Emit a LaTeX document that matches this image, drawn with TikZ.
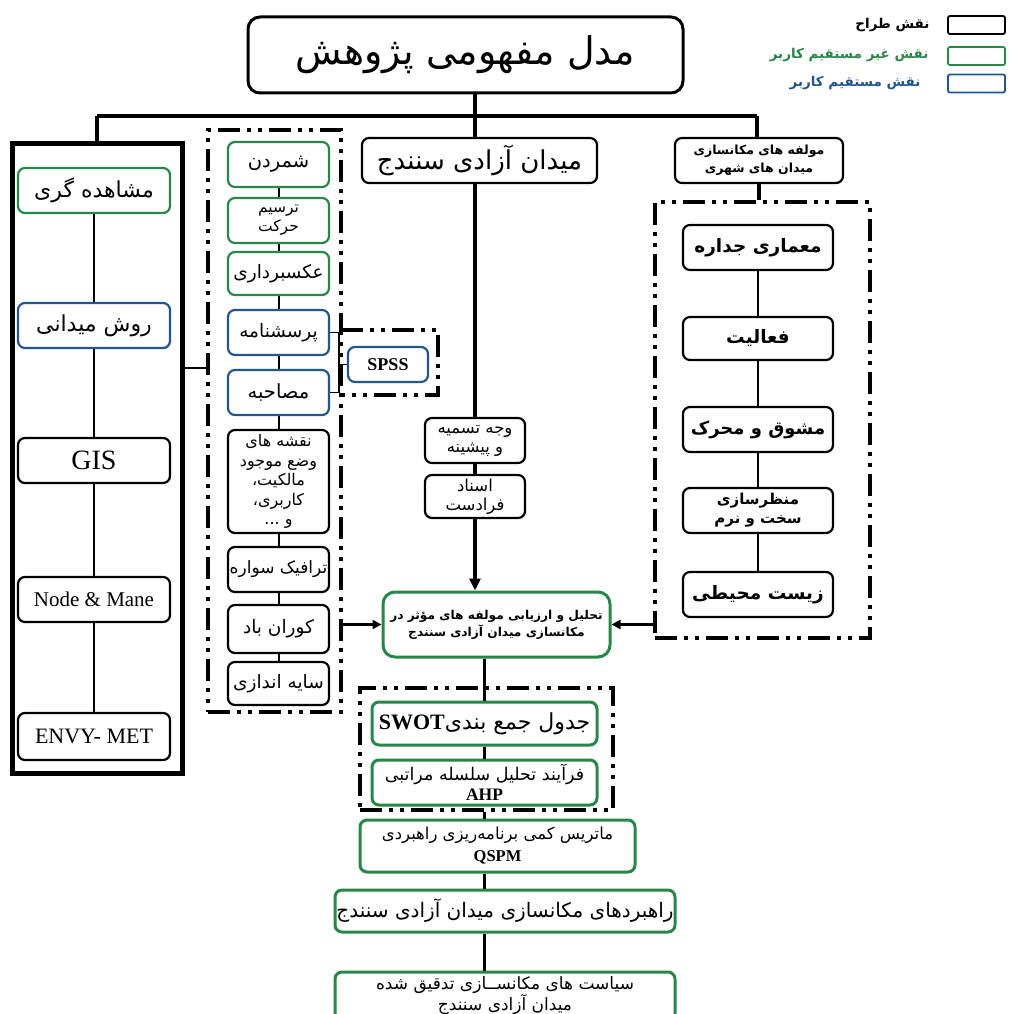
\documentclass[tikz,border=0pt]{standalone}
\usepackage{fontspec}
\setmainfont{Liberation Serif}
\newfontfamily\arabicfont[Script=Arabic]{DejaVu Sans}
\newfontfamily\latinfont{Liberation Serif}
\TeXXeTstate=1
\newcommand{\FA}[1]{{\arabicfont\beginR #1\endR}}
\newcommand{\LT}[1]{{\latinfont\bfseries #1}}
\newcommand{\fs}[2]{\fontsize{#1}{#2}\selectfont}
\usetikzlibrary{arrows.meta}
\definecolor{grn}{RGB}{38,135,70}
\definecolor{blu}{RGB}{35,85,140}
\begin{document}
\begin{tikzpicture}[x=1pt,y=-1pt,
  box/.style={draw, rounded corners=7pt, line width=2.2pt, align=center, inner sep=1pt, fill=white, font=\arabicfont\fs{18.5}{21}},
  bbox/.style={box, draw=black},
  gbox/.style={box, draw=grn},
  ubox/.style={box, draw=blu},
  wh/.style 2 args={minimum width=#1, minimum height=#2},
  dashframe/.style={line width=4pt, dash pattern=on 22pt off 7pt on 4pt off 7pt on 4pt off 7pt},
  conn/.style={line width=3.5pt},
  thinline/.style={line width=1.5pt},
  arr/.style={line width=2.5pt, -{Triangle[length=9pt,width=9pt]}},
  lgbox/.style={draw, line width=1.8pt, rounded corners=2pt, wh={57}{18}},
  lgtext/.style={anchor=east, font=\arabicfont\bfseries\fs{13.5}{15}},
]
\useasboundingbox (0,0) rectangle (1009,1014);
\fill[white] (0,0) rectangle (1009,1014);

% frames
\node[draw, line width=5pt, wh={170}{630}] (lframe) at (97,458) {};
\node[draw, dashframe, wh={133}{582}] (mframe) at (274.5,421) {};
\node[draw, dashframe, wh={215}{436}] (rframe) at (762.5,420) {};
\node[draw, dashframe, wh={253}{122}] (cframe) at (486.5,749) {};
\coordinate (s1) at (341,330);
\coordinate (s2) at (438,330);
\coordinate (s3) at (438,395);
\coordinate (s4) at (341,395);
\draw[dashframe] (s1) -- (s2) -- (s3) -- (s4);

% title and legend
\node[bbox, wh={435}{76}, line width=3pt, rounded corners=12pt, font=\arabicfont\fs{38}{42}] (title) at (465.5,55) {\FA{مدل مفهومی پژوهش}};
\node[lgbox, draw=black] (lg1) at (976.5,25) {};
\node[lgbox, draw=grn] (lg2) at (976.5,56) {};
\node[lgbox, draw=blu] (lg3) at (976.5,83.5) {};
\node[lgtext] (lt1) at (933,25) {\FA{نقش طراح}};
\node[lgtext, text=grn] (lt2) at (932,55) {\FA{نقش غیر مستقیم کاربر}};
\node[lgtext, text=blu] (lt3) at (924,83) {\FA{نقش مستقیم کاربر}};

% left column
\node[gbox, wh={152}{45}, font=\arabicfont\fs{22}{24}] (obs) at (94,190.5) {\FA{مشاهده گری}};
\node[ubox, wh={152}{45}, font=\arabicfont\fs{22}{24}] (fld) at (94,325.5) {\FA{روش میدانی}};
\node[bbox, wh={152}{45}, font=\latinfont\fs{28}{30}] (gis) at (94,460.5) {GIS};
\node[bbox, wh={152}{45}, font=\latinfont\fs{21}{24}] (nm) at (94,599.5) {Node \& Mane};
\node[bbox, wh={152}{47}, font=\latinfont\fs{22}{24}] (envy) at (94,736.5) {ENVY- MET};

% middle-left column
\node[gbox, wh={101}{45}, font=\arabicfont\fs{19.5}{21}] (c1) at (278.5,164.5) {\FA{شمردن}};
\node[gbox, wh={101}{45}, font=\arabicfont\fs{15.5}{19}] (c2) at (278.5,220.5) {\FA{ترسیم}\\\FA{حرکت}};
\node[gbox, wh={101}{43}] (c3) at (278.5,273.5) {\FA{عکسبرداری}};
\node[ubox, wh={101}{45}] (c4) at (278.5,332.5) {\FA{پرسشنامه}};
\node[ubox, wh={101}{45}, font=\arabicfont\fs{19.5}{21}] (c5) at (278.5,392.5) {\FA{مصاحبه}};
\node[bbox, wh={101}{103}, font=\arabicfont\fs{16}{19.5}] (c6) at (278.5,481.5) {\FA{نقشه های}\\\FA{وضع موجود}\\\FA{مالکیت،}\\\FA{کاربری،}\\\FA{و ...}};
\node[bbox, wh={101}{45}, font=\arabicfont\fs{17}{20}] (c7) at (278.5,569.5) {\FA{ترافیک سواره}};
\node[bbox, wh={101}{48}] (c8) at (278.5,629) {\FA{کوران باد}};
\node[bbox, wh={101}{43}] (c9) at (278.5,683.5) {\FA{سایه اندازی}};
\node[ubox, wh={80}{35}, font=\latinfont\bfseries\fs{18}{20}] (spss) at (388,364.5) {SPSS};

% center column
\node[bbox, wh={235}{45}, font=\arabicfont\fs{26}{28}] (sq) at (479.5,160.5) {\FA{میدان آزادی سنندج}};
\node[bbox, wh={100}{45}, font=\arabicfont\fs{16.5}{19}] (vj) at (475,440.5) {\FA{وجه تسمیه}\\\FA{و پیشینه}};
\node[bbox, wh={100}{43}, font=\arabicfont\fs{16.5}{19}] (as) at (475,496.5) {\FA{اسناد}\\\FA{فرادست}};
\node[gbox, wh={227}{65}, line width=3pt, rounded corners=12pt, font=\arabicfont\bfseries\fs{12.2}{17}] (th) at (496.5,624.5) {\FA{تحلیل و ارزیابی مولفه های مؤثر در}\\\FA{مکانسازی میدان آزادی سنندج}};
\node[gbox, wh={225}{43}, line width=3pt, font=\arabicfont\fs{22}{24}] (sw) at (484.5,723.5) {\FA{جدول جمع بندی\beginL\LT{SWOT}\endL}};
\node[gbox, wh={225}{45}, line width=3pt, font=\arabicfont\fs{17.5}{20}] (ahp) at (484.5,782.5) {\FA{فرآیند تحلیل سلسله مراتبی}\\\LT{AHP}};
\node[gbox, wh={275}{52}, line width=3pt, font=\arabicfont\fs{16.5}{22}] (qs) at (497.5,846) {\FA{ماتریس کمی برنامه‌ریزی راهبردی}\\\LT{QSPM}};
\node[gbox, wh={340}{42}, line width=3pt, font=\arabicfont\fs{20}{22}] (rb) at (505,911) {\FA{راهبردهای مکانسازی میدان آزادی سنندج}};
\node[gbox, wh={340}{48}, line width=3pt, font=\arabicfont\fs{17}{21}] (sy) at (505,996) {\FA{سیاست های مکانســازی تدقیق شده}\\\FA{میدان آزادی سنندج}};

% right column
\node[bbox, wh={168}{45}, font=\arabicfont\bfseries\fs{12.5}{18}] (mc) at (759,160.5) {\FA{مولفه های مکانسازی}\\\FA{میدان های شهری}};
\node[bbox, wh={150}{45}, font=\arabicfont\bfseries\fs{18.5}{21}] (r1) at (758,247.5) {\FA{معماری جداره}};
\node[bbox, wh={150}{43}, font=\arabicfont\bfseries\fs{18.5}{21}] (r2) at (758,338.5) {\FA{فعالیت}};
\node[bbox, wh={150}{45}, font=\arabicfont\bfseries\fs{18}{21}] (r3) at (758,429.5) {\FA{مشوق و محرک}};
\node[bbox, wh={150}{45}, font=\arabicfont\bfseries\fs{15}{19}] (r4) at (758,510.5) {\FA{منظرسازی}\\\FA{سخت و نرم}};
\node[bbox, wh={150}{45}, font=\arabicfont\bfseries\fs{18.5}{21}] (r5) at (758,594.5) {\FA{زیست محیطی}};

% connectors
\coordinate (bL) at (97,116);
\coordinate (bR) at (757,116);
\coordinate (bM) at (475,116);
\draw[conn] (bL) -- (bR);
\draw[conn] (bL) -- (bL |- lframe.north);
\draw[conn] (bM |- title.south) -- (bM |- sq.north);
\draw[conn] (bR) -- (bR |- mc.north);
\draw[conn] (mc.south) -- (mc.south |- rframe.north);
\draw[conn] (bM |- sq.south) -- (vj.north);
\draw[conn] (vj.south) -- (as.north);
\draw[conn, -{Triangle[length=12pt,width=11pt]}] (as.south) -- (as.south |- th.north);
\draw[arr] (mframe.east |- th.west) -- (th.west);
\draw[arr] (rframe.west |- th.east) -- (th.east);
\draw[conn] (sw.north |- th.south) -- (sw.north);
\draw[conn] (sw.south) -- (ahp.north);
\draw[conn] (ahp.south |- cframe.south) -- (ahp.south |- qs.north);
\draw[conn] (ahp.south |- qs.south) -- (ahp.south |- rb.north);
\draw[conn] (ahp.south |- rb.south) -- (ahp.south |- sy.north);

\foreach \a/\b in {obs/fld, fld/gis, gis/nm, nm/envy}
  \draw[thinline] (\a.south) -- (\b.north);
\foreach \a/\b in {c1/c2, c2/c3, c3/c4, c4/c5, c5/c6, c6/c7, c7/c8, c8/c9}
  \draw[thinline, line width=2pt] (\a.south) -- (\b.north);
\foreach \a/\b in {r1/r2, r2/r3, r3/r4, r4/r5}
  \draw[thinline, line width=2pt] (\a.south) -- (\b.north);

\coordinate (lk) at (0,368);
\draw[line width=2.2pt] (lframe.east |- lk) -- (mframe.west |- lk);
\coordinate (bx) at (339,0);
\draw[thinline] (c4.east) -- (c4.east -| bx) -- (c5.east -| bx) -- (c5.east);
\draw[thinline] (spss.west -| bx) -- (spss.west);
\end{tikzpicture}
\end{document}
